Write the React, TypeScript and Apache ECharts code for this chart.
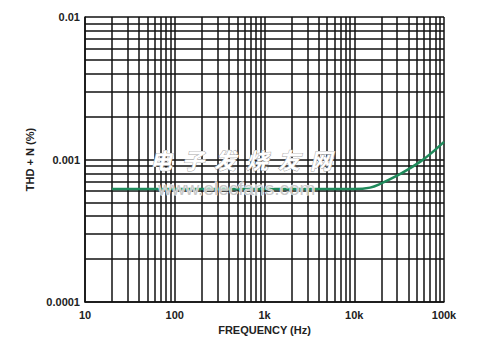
import React, { useEffect, useRef } from "react";
import * as echarts from "echarts";

const freq = [20, 100, 1000, 5000, 10000, 15000, 20000, 30000, 42000, 55000, 70000, 100000];
const thdn = [0.00062, 0.00062, 0.00062, 0.00062, 0.00062, 0.000635, 0.00068, 0.00077, 0.00087, 0.00097, 0.00109, 0.00133];

const xGrid = [
  10, 20, 30, 40, 50, 60, 70, 80, 90,
  100, 200, 300, 400, 500, 600, 700, 800, 900,
  1000, 2000, 3000, 4000, 5000, 6000, 7000, 8000, 9000,
  10000, 20000, 30000, 40000, 50000, 60000, 70000, 80000, 90000, 100000,
];
const yGrid = [
  0.0001, 0.0002, 0.0003, 0.0004, 0.0005, 0.0006, 0.0007, 0.0008, 0.0009,
  0.001, 0.002, 0.003, 0.004, 0.005, 0.006, 0.007, 0.008, 0.009, 0.01,
];
const xTickLabels = ["10", "100", "1k", "10k", "100k"]; // 10^1 .. 10^5
const yTickLabels = ["0.0001", "0.001", "0.01"]; // 10^-4 .. 10^-2

const X_MIN = 10;
const X_MAX = 100000;
const Y_MIN = 0.0001;
const Y_MAX = 0.01;

const watermarkCN = ["电", "子", "发", "烧", "友", "网"];
const watermarkEN = "www.elecfans.com";

const FONT = '"Liberation Sans", Arial, sans-serif';

export default function App() {
  const ref = useRef<HTMLDivElement>(null);
  useEffect(() => {
    if (!ref.current) return;
    const chart = echarts.init(ref.current, null, { renderer: "svg" });
    const gridStyle = { color: "#111", width: 1.5, type: "solid" as const };
    chart.setOption({
      animation: false,
      backgroundColor: "#ffffff",
      grid: { left: 85, top: 17, right: 38, bottom: 40, containLabel: false },
      xAxis: {
        type: "log",
        logBase: 10,
        min: X_MIN,
        max: X_MAX,
        name: "FREQUENCY (Hz)",
        nameLocation: "middle",
        nameGap: 22,
        nameTextStyle: { fontFamily: FONT, fontSize: 11, fontWeight: "bold", color: "#222" },
        axisLine: { show: true, lineStyle: { color: "#111", width: 1.5 } },
        axisTick: { show: false },
        splitLine: { show: false },
        axisLabel: {
          fontFamily: FONT,
          fontSize: 11,
          fontWeight: "bold",
          color: "#222",
          margin: 7,
          formatter: (v: number) => {
            const i = Math.round(Math.log10(v)) - 1;
            return xTickLabels[i] ?? "";
          },
        },
      },
      yAxis: {
        type: "log",
        logBase: 10,
        min: Y_MIN,
        max: Y_MAX,
        name: "THD + N (%)",
        nameLocation: "middle",
        nameGap: 43,
        nameTextStyle: { fontFamily: FONT, fontSize: 11, fontWeight: "bold", color: "#222" },
        axisLine: { show: true, lineStyle: { color: "#111", width: 1.5 } },
        axisTick: { show: false },
        splitLine: { show: false },
        axisLabel: {
          fontFamily: FONT,
          fontSize: 11,
          fontWeight: "bold",
          color: "#222",
          margin: 5,
          formatter: (v: number) => {
            const i = Math.round(Math.log10(v)) + 4;
            return yTickLabels[i] ?? "";
          },
        },
      },
      graphic: [
        ...watermarkCN.map((c, i) => ({
          type: "text",
          x: 150 + i * 32,
          y: 148,
          z: 10,
          silent: true,
          style: {
            text: c,
            fontFamily: '"Noto Sans CJK SC", sans-serif',
            fontSize: 22,
            fontStyle: "italic",
            fontWeight: "bold",
            fill: "#ffffff",
            stroke: "#a8a8a8",
            lineWidth: 1,
          },
        })),
        {
          type: "text",
          x: 158,
          y: 179,
          z: 10,
          silent: true,
          style: {
            text: watermarkEN,
            fontFamily: FONT,
            fontSize: 19,
            fill: "#c8c8c8",
            stroke: "#ffffff",
            lineWidth: 0.8,
          },
        },
      ],
      series: [
        {
          type: "line",
          data: [],
          silent: true,
          markLine: {
            silent: true,
            symbol: "none",
            label: { show: false },
            lineStyle: gridStyle,
            emphasis: { disabled: true },
            data: [
              ...xGrid.map((v) => [{ coord: [v, Y_MIN] }, { coord: [v, Y_MAX] }]),
              ...yGrid.map((v) => [{ coord: [X_MIN, v] }, { coord: [X_MAX, v] }]),
            ],
          },
        },
        {
          type: "line",
          data: freq.map((f, i) => [f, thdn[i]]),
          smooth: 0.4,
          showSymbol: false,
          symbol: "none",
          z: 5,
          lineStyle: { color: "#1f8a5b", width: 2.5 },
        },
      ],
    });
    return () => chart.dispose();
  }, []);
  return <div ref={ref} style={{ width: 482, height: 342, position: "absolute", left: 0, top: 0 }} />;
}
